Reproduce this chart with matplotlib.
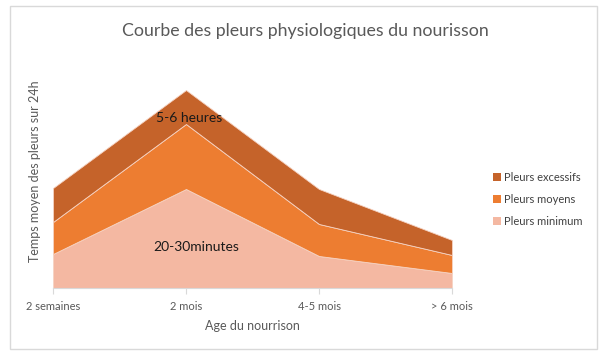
import matplotlib
matplotlib.use("Agg")
import matplotlib.pyplot as plt
from matplotlib.patches import Rectangle, Patch
import numpy as np

plt.rcParams['font.family'] = ['Lato', 'DejaVu Sans']

categories = ["2 semaines", "2 mois", "4-5 mois", "> 6 mois"]
pleurs_minimum = [34, 99, 32, 15]
pleurs_moyens = [32, 65, 32, 18]
pleurs_excessifs = [34, 34, 35, 15]
series_names = ["Pleurs minimum", "Pleurs moyens", "Pleurs excessifs"]
colors = ["#F4B8A2", "#ED7D31", "#C5632A"]

fig = plt.figure(figsize=(6.05, 3.52), dpi=100)
W, H = 605, 352
ax = fig.add_axes([53 / W, (H - 288) / H, 399 / W, 218 / H])

x = np.arange(len(categories))
polys = ax.stackplot(x, pleurs_minimum, pleurs_moyens, pleurs_excessifs,
                     colors=colors, labels=series_names, linewidth=0.6,
                     edgecolor="#F6D3C3")
ax.set_xlim(0, len(categories) - 1)
ax.set_ylim(0, 218)
ax.set_yticks([])
ax.set_xticks(x)
ax.set_xticklabels(categories, fontsize=8, color="#595959")
ax.tick_params(axis='x', length=4, color="#D9D9D9", pad=5)
for s in ["top", "right", "left"]:
    ax.spines[s].set_visible(False)
ax.spines["bottom"].set_color("#D9D9D9")

ax.set_xlabel("Age du nourrison", fontsize=9, color="#595959", labelpad=6)
ax.set_ylabel("Temps moyen des pleurs sur 24h", fontsize=9, color="#595959")
ax.yaxis.set_label_coords(-12 / 399, 0.537)

ax.text(1.02, 170, "5-6 heures", ha="center", va="center", fontsize=10, color="#1A1A1A")
ax.text(1.08, 41, "20-30minutes", ha="center", va="center", fontsize=10, color="#1A1A1A")

fig.text(305 / W, 1 - 31 / H, "Courbe des pleurs physiologiques du nourisson",
         ha="center", va="center", fontsize=12.8, color="#595959")

handles = [Patch(facecolor=colors[2]), Patch(facecolor=colors[1]), Patch(facecolor=colors[0])]
labels = [series_names[2], series_names[1], series_names[0]]
fig.legend(handles, labels, loc="upper left", bbox_to_anchor=(483 / W, 1 - 162 / H),
           frameon=False, fontsize=8, handlelength=0.7, handleheight=0.7,
           handletextpad=0.3, labelspacing=1.0, labelcolor="#404040")

fig.patches.append(Rectangle((10 / W, 3 / H), 587 / W, 343 / H, transform=fig.transFigure,
                             fill=False, edgecolor="#D9D9D9", linewidth=1))

fig.savefig("out.png", dpi=100)
